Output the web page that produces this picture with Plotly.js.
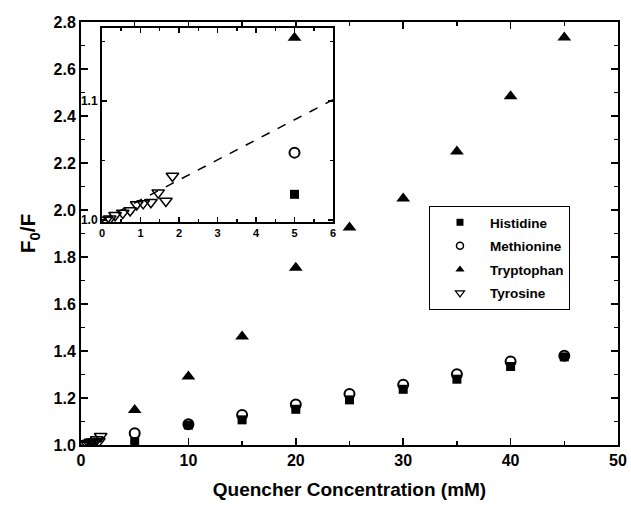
<!DOCTYPE html>
<html><head><meta charset="utf-8">
<script src="https://cdn.plot.ly/plotly-3.0.1.min.js"></script>
<style>body{margin:0;background:#fff}#c{width:631px;height:508px}</style>
</head><body><div id="c"></div>
<script>
// Main chart data
const seriesNames = ['Histidine', 'Methionine', 'Tryptophan', 'Tyrosine'];
const conc = [5, 10, 15, 20, 25, 30, 35, 40, 45];
const histidine  = [1.014, 1.085, 1.107, 1.152, 1.192, 1.237, 1.280, 1.334, 1.375];
const methionine = [1.050, 1.088, 1.128, 1.172, 1.217, 1.256, 1.301, 1.355, 1.380];
const tryptophan = [1.149, 1.291, 1.462, 1.754, 1.925, 2.049, 2.249, 2.484, 2.734];
// Tyrosine (low concentrations)
const tyrConc = [0.1, 0.2, 0.34, 0.54, 0.73, 0.90, 1.07, 1.27, 1.46, 1.66, 1.83];
const tyrosine = [1.000, 1.001, 1.004, 1.006, 1.008, 1.013, 1.014, 1.015, 1.023, 1.016, 1.037];
// Inset: points at 5 mM
const insetConc = [5];
const insetHis = [1.0216];
const insetMet = [1.0566];
const insetTrp = [1.153];
// Inset fit line
const fitX = [0, 6];
const fitY = [1.0, 1.101];

const xTicks = [0, 10, 20, 30, 40, 50];
const yTicks = [1.0, 1.2, 1.4, 1.6, 1.8, 2.0, 2.2, 2.4, 2.6, 2.8];
const insetXTicks = [0, 1, 2, 3, 4, 5, 6];
const insetYTicks = [1.0, 1.1];

const F = 'Liberation Sans, Arial, sans-serif';
const sq = {symbol:'square', size:9, color:'#000'};
const ci = {symbol:'circle-open', size:10, color:'#000', line:{width:2, color:'#000'}};
const tu = {symbol:'triangle-up', size:12, color:'#000'};
const td = {symbol:'triangle-down-open', size:11, color:'#000', line:{width:1.5, color:'#000'}};
const legMarkers = [
  {symbol:'square', size:7, color:'#000'},
  {symbol:'circle-open', size:7, color:'#000', line:{width:1.5, color:'#000'}},
  {symbol:'triangle-up', size:8, color:'#000'},
  {symbol:'triangle-down-open', size:8, color:'#000', line:{width:1.2, color:'#000'}}
];

const traces = [
  {x:conc, y:histidine, mode:'markers', name:seriesNames[0], marker:sq, showlegend:false},
  {x:conc, y:methionine, mode:'markers', name:seriesNames[1], marker:ci, showlegend:false},
  {x:conc, y:tryptophan, mode:'markers', name:seriesNames[2], marker:tu, showlegend:false},
  {x:tyrConc, y:tyrosine, mode:'markers', name:seriesNames[3], marker:td, showlegend:false},
  {x:fitX, y:fitY, mode:'lines', line:{dash:'dash', width:1.5, color:'#000'}, xaxis:'x2', yaxis:'y2', showlegend:false},
  {x:insetConc, y:insetHis, mode:'markers', marker:sq, xaxis:'x2', yaxis:'y2', showlegend:false},
  {x:insetConc, y:insetMet, mode:'markers', marker:ci, xaxis:'x2', yaxis:'y2', showlegend:false},
  {x:insetConc, y:insetTrp, mode:'markers', marker:tu, xaxis:'x2', yaxis:'y2', showlegend:false},
  {x:tyrConc, y:tyrosine, mode:'markers', marker:td, xaxis:'x2', yaxis:'y2', showlegend:false}
];
// legend-only entries (no data) so legend symbols are small like the reference
seriesNames.forEach((n, i) => traces.push({x:[null], y:[null], mode:'markers', name:n,
  marker:legMarkers[i], legendgroup:'g' + i, showlegend:true}));

const axBase = {showgrid:false, zeroline:false, showline:true, linecolor:'#000', linewidth:2,
  mirror:'allticks', ticks:'inside', tickcolor:'#000', tickwidth:1.5};

const layout = {
  width:631, height:508,
  margin:{l:81, r:13, t:22, b:63},
  paper_bgcolor:'#fff', plot_bgcolor:'#fff',
  font:{family:F, color:'#000'},
  showlegend:true,
  legend:{x:0.648, y:0.565, xanchor:'left', yanchor:'top', bordercolor:'#000', borderwidth:1,
    bgcolor:'#fff', font:{family:F, size:13.5, weight:'bold'}, tracegroupgap:3, itemwidth:50},
  xaxis:Object.assign({}, axBase, {range:[0,50], tickvals:xTicks, ticklen:7,
    minor:{dtick:5, ticklen:4, tickcolor:'#000', ticks:'inside'},
    tickfont:{family:F, size:16, weight:'bold'},
    title:{text:'Quencher Concentration (mM)', font:{family:F, size:19, weight:'bold'}, standoff:14}}),
  yaxis:Object.assign({}, axBase, {range:[1.0,2.8], tickvals:yTicks, ticktext:yTicks.map(v=>v.toFixed(1)), ticklen:7,
    minor:{dtick:0.1, ticklen:4, tickcolor:'#000', ticks:'inside'},
    tickfont:{family:F, size:16, weight:'bold'},
    title:{text:'F<sub>0</sub>/F', font:{family:F, size:21, weight:'bold'}, standoff:12}}),
  xaxis2:Object.assign({}, axBase, {domain:[0.0391,0.4693], anchor:'y2', range:[0,6], tickvals:insetXTicks, ticklen:5,
    minor:{dtick:0.5, ticklen:3, tickcolor:'#000', ticks:'inside'},
    tickfont:{family:F, size:11, weight:'bold'}}),
  yaxis2:Object.assign({}, axBase, {domain:[0.527,0.986], anchor:'x2', range:[0.9983,1.1613], tickvals:insetYTicks,
    ticktext:['1.0','1.1'], ticklen:5,
    minor:{dtick:0.05, ticklen:3, tickcolor:'#000', ticks:'inside'},
    tickfont:{family:F, size:12, weight:'bold'}})
};

Plotly.newPlot('c', traces, layout, {displayModeBar:false, staticPlot:true});
</script></body></html>
